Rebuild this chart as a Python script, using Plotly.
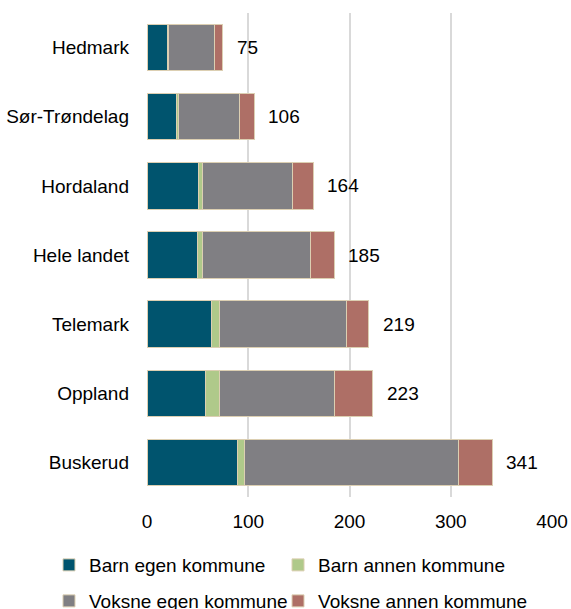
import plotly.graph_objects as go

categories = ["Buskerud", "Oppland", "Telemark", "Hele landet", "Hordaland", "Sør-Trøndelag", "Hedmark"]
barn_egen = [89, 57.5, 63.5, 50, 50.5, 29, 20]
barn_annen = [7, 14, 8.5, 5, 4.5, 2.5, 1]
voksne_egen = [212, 113.5, 125.5, 106, 88.5, 60, 46]
voksne_annen = [33, 38, 21.5, 24, 20.5, 14.5, 8]
totals = [341, 223, 219, 185, 164, 106, 75]

series = [
    ("Barn egen kommune", barn_egen, "#00546E"),
    ("Barn annen kommune", barn_annen, "#AFC98A"),
    ("Voksne egen kommune", voksne_egen, "#807F83"),
    ("Voksne annen kommune", voksne_annen, "#AE6F66"),
]
legend_ids = ["legend", "legend2", "legend3", "legend4"]
legend_xy = [(0.0858, 0.0722), (0.4869, 0.0722), (0.0858, 0.0131), (0.4869, 0.0131)]

fig = go.Figure()
for (name, vals, col), leg in zip(series, legend_ids):
    fig.add_trace(go.Bar(
        y=categories, x=vals, name=name, orientation="h", legend=leg,
        marker=dict(color=col, line=dict(color="#DCCFB2", width=1)),
        hoverinfo="x+name",
    ))

for cat, tot in zip(categories, totals):
    fig.add_annotation(x=tot, y=cat, text=str(tot), showarrow=False,
                       xanchor="left", xshift=12, font=dict(size=19, color="#000000"))

legends = {}
for leg, (lx, ly) in zip(legend_ids, legend_xy):
    legends[leg] = dict(orientation="h", xref="container", yref="container", x=lx, y=ly,
                        xanchor="left", yanchor="middle", font=dict(size=19),
                        itemwidth=30, bgcolor="rgba(0,0,0,0)")

fig.update_layout(
    barmode="stack",
    bargap=0.33,
    width=571, height=609,
    margin=dict(l=147, r=19, t=13, b=112),
    paper_bgcolor="white", plot_bgcolor="white",
    font=dict(family="Liberation Sans, Arial, sans-serif", size=19, color="#000000"),
    xaxis=dict(range=[0, 400], dtick=100, showgrid=True, gridcolor="#D9D9D9", gridwidth=1.5,
               zeroline=False, showline=False, ticks="", ticklabelstandoff=11, automargin=False),
    yaxis=dict(showgrid=False, showline=False, ticks="", ticklabelstandoff=17, automargin=False),
    showlegend=True,
    **legends,
)

fig.write_html("out.html", config={"displayModeBar": False},
               post_script="document.body.style.margin='0';document.body.style.overflow='hidden';")
